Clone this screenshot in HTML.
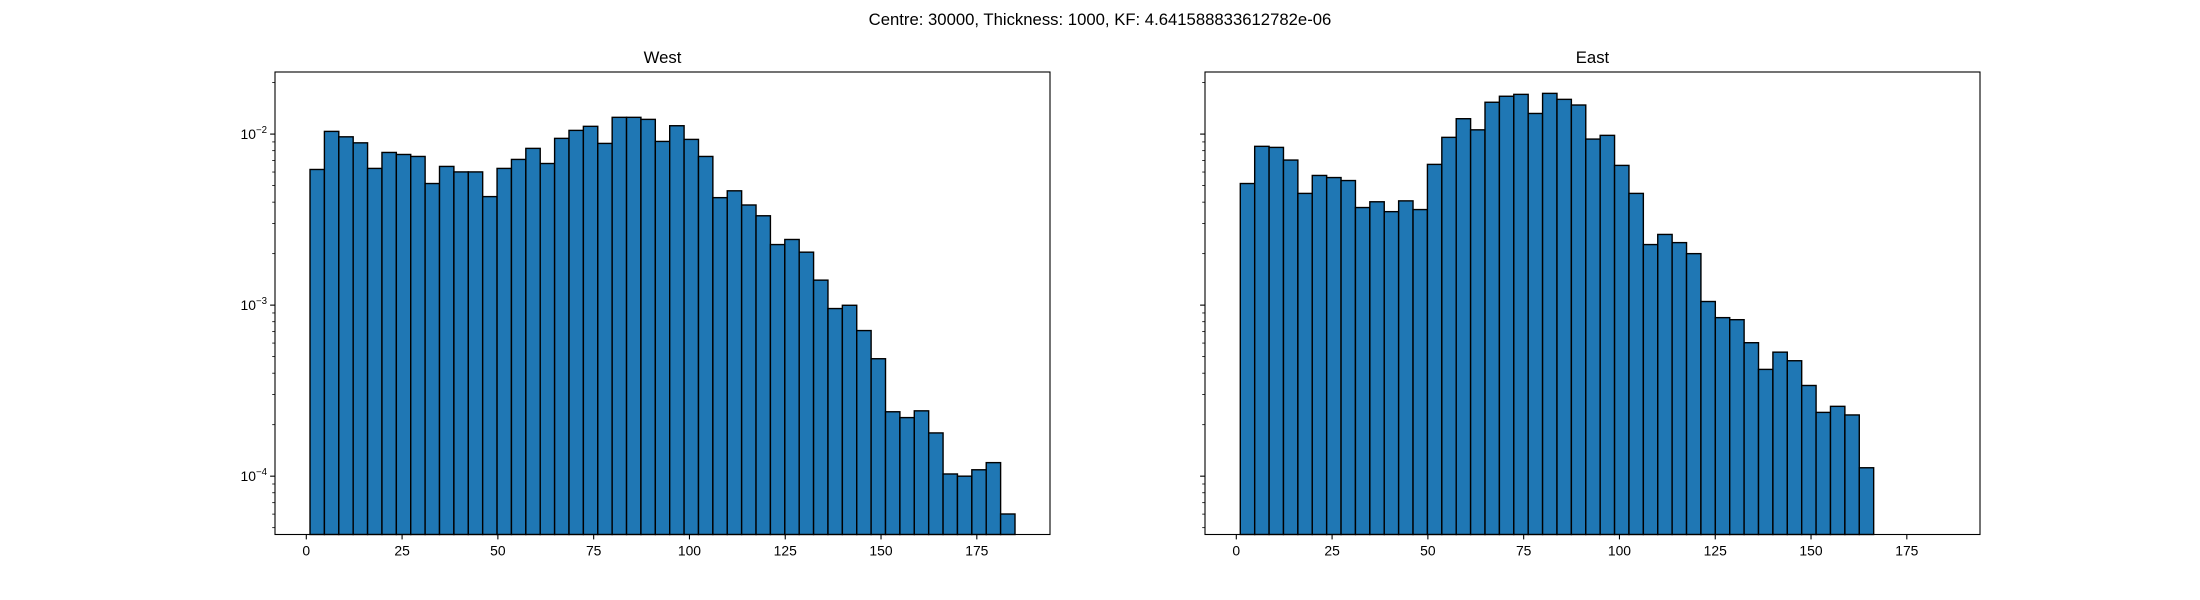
<!DOCTYPE html>
<html><head><meta charset="utf-8"><style>
html,body{margin:0;padding:0;background:#fff;}
svg{display:block;font-family:"Liberation Sans","DejaVu Sans",sans-serif;}
</style></head><body>
<svg id="fig" width="2200" height="600" viewBox="0 0 2200 600">
<text x="1100" y="25" text-anchor="middle" font-size="16.7">Centre: 30000, Thickness: 1000, KF: 4.641588833612782e-06</text>
</svg>
<script>
const westValues=[0.00621,0.01037,0.00964,0.00889,0.00630,0.00781,0.00760,0.00740,0.00514,0.00647,0.00601,0.00601,0.00431,0.00630,0.00711,0.00825,0.00673,0.00944,0.01051,0.01110,0.00882,0.01253,0.01253,0.01219,0.00906,0.01119,0.00931,0.00740,0.00425,0.00466,0.00385,0.00333,0.00226,0.00242,0.00204,0.00140,0.000955,0.000998,0.000710,0.000486,0.000238,0.000220,0.000241,0.000179,0.000103,0.000100,0.000109,0.000120,0.0000601];
const westBinStart=0.97;
const westBinWidth=3.755;
const eastValues=[0.00514,0.00848,0.00836,0.00705,0.00450,0.00573,0.00557,0.00535,0.00372,0.00402,0.00352,0.00407,0.00362,0.00665,0.00957,0.01230,0.01059,0.01535,0.01664,0.01707,0.01320,0.01730,0.01596,0.01479,0.00935,0.00983,0.00656,0.00450,0.00226,0.00259,0.00232,0.00200,0.00105,0.000845,0.000822,0.000603,0.000421,0.000531,0.000473,0.000339,0.000236,0.000256,0.000228,0.000112];
const eastBinStart=1.04;
const eastBinWidth=3.757;
const xTicks=[0,25,50,75,100,125,150,175];
const yDecades=[-4,-3,-2];
const panelTitles=["West","East"];

const NS="http://www.w3.org/2000/svg";
const svgEl=document.getElementById('fig');
function mk(tag,attrs,parent){const e=document.createElementNS(NS,tag);for(const k in attrs)e.setAttribute(k,attrs[k]);(parent||svgEl).appendChild(e);return e;}

const axTop=72, axBottom=534.5;
const xMin=-8.17, xMax=194.1;
const yLogMin=-4.341, yLogMax=-1.637;
function yPx(v){return axBottom-(Math.log10(v)-yLogMin)/(yLogMax-yLogMin)*(axBottom-axTop);}

const panels=[{left:275,right:1050,vals:westValues,b0:westBinStart,bw:westBinWidth,labels:true},
              {left:1205,right:1980,vals:eastValues,b0:eastBinStart,bw:eastBinWidth,labels:false}];

panels.forEach((p,pi)=>{
  const xPx=v=>p.left+(v-xMin)/(xMax-xMin)*(p.right-p.left);
  const g=mk('g',{});
  
  
  p.vals.forEach((v,i)=>{
    const x0=xPx(p.b0+i*p.bw), x1=xPx(p.b0+(i+1)*p.bw), y=yPx(v);
    const r=mk('rect',{x:x0,y:y,width:x1-x0,height:axBottom-y,fill:'#1f77b4',stroke:'#000','stroke-width':1.4},g);
    
    
  });
  const frame=mk('rect',{x:p.left,y:axTop,width:p.right-p.left,height:axBottom-axTop,fill:'none',stroke:'#000','stroke-width':1.1},g);
  
  
  const t=mk('text',{x:(p.left+p.right)/2,y:axTop-9,'text-anchor':'middle','font-size':16.7},g);
  t.textContent=panelTitles[pi];
  
  
  xTicks.forEach(tv=>{
    const x=xPx(tv);
    const tk=mk('line',{x1:x,x2:x,y1:axBottom,y2:axBottom+4.9,stroke:'#000','stroke-width':1.1},g);
    
    
    const lb=mk('text',{x:x,y:axBottom+21,'text-anchor':'middle','font-size':13.9},g);
    lb.textContent=String(tv);
    
    
  });
  for(let d=-5; d<=-1; d++){
    for(let m=1;m<=9;m++){
      const lv=d+Math.log10(m);
      if(lv<yLogMin||lv>yLogMax) continue;
      const y=yPx(Math.pow(10,lv));
      const len=m===1?4.9:2.8;
      const tk=mk('line',{x1:p.left-len,x2:p.left,y1:y,y2:y,stroke:'#000','stroke-width':m===1?1.1:0.8},g);
      
      
    }
  }
  if(p.labels){
    yDecades.forEach(d=>{
      const y=yPx(Math.pow(10,d));
      const lb=mk('text',{x:p.left-8,y:y+5,'text-anchor':'end','font-size':13.9},g);
      const base=mk('tspan',{},lb); base.textContent='10';
      const sup=mk('tspan',{'font-size':9.7,dy:-6},lb); sup.textContent='\u2212'+Math.abs(d);
      
      
    });
  }
});
</script>
</body></html>
